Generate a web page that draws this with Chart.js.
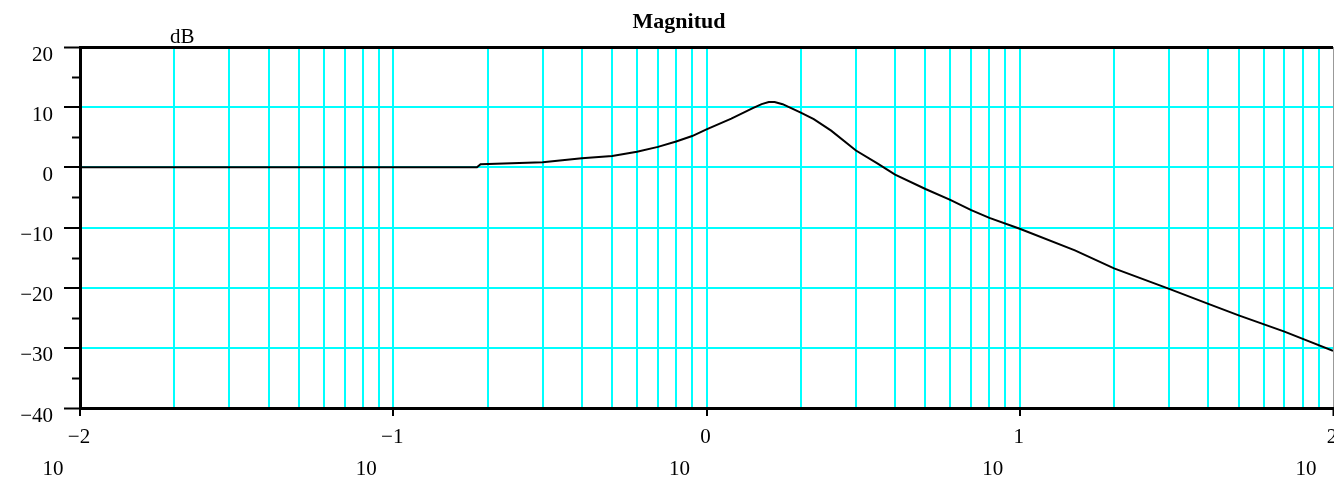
<!DOCTYPE html>
<html>
<head>
<meta charset="utf-8">
<script src="https://cdn.jsdelivr.net/npm/chart.js@4/dist/chart.umd.min.js"></script>
<style>
  body { margin: 0; background: #fff; }
</style>
</head>
<body>
<canvas id="bodeChart" width="1334" height="480"></canvas>
<script>
// frequency (rad/s) and magnitude (dB)
const freqs = [0.01, 0.03, 0.1, 0.185, 0.19, 0.3, 0.4, 0.5, 0.6, 0.7, 0.8, 0.9, 1.0, 1.2, 1.4, 1.5, 1.58, 1.65, 1.75, 2.0, 2.2, 2.5, 3.0, 3.5, 4.0, 5.0, 6.0, 7.0, 8.0, 10, 15, 20, 30, 40, 50, 70, 100];
const magDb = [0, 0, 0, 0, 0.5, 0.85, 1.5, 1.9, 2.6, 3.4, 4.3, 5.2, 6.3, 8.1, 9.8, 10.5, 10.85, 10.85, 10.5, 9.1, 8.0, 6.1, 2.8, 0.7, -1.2, -3.6, -5.4, -7.1, -8.4, -10.2, -13.8, -16.8, -20.2, -22.7, -24.6, -27.3, -30.5];

const decades = [-2, -1, 0, 1, 2];
const yMajor = [-40, -30, -20, -10, 0, 10, 20];
const yMinor = [-35, -25, -15, -5, 5, 15];

const labelFont = '21px "Liberation Serif"';
const CYAN = '#00ffff';

function isDecade(v) {
    return Math.abs(Math.log10(v) - Math.round(Math.log10(v))) < 1e-9;
}

const bodeLabels = {
    id: 'bodeLabels',
    afterDraw(chart) {
        const ctx = chart.ctx;
        const xs = chart.scales.x;
        const ys = chart.scales.y;
        ctx.save();
        ctx.fillStyle = '#000';
        ctx.strokeStyle = '#000';

        // minor ticks on the dB axis
        ctx.lineWidth = 2;
        yMinor.forEach(v => {
            const py = Math.round(ys.getPixelForValue(v)) + 0.5;
            ctx.beginPath();
            ctx.moveTo(72, py);
            ctx.lineTo(xs.left, py);
            ctx.stroke();
        });

        // decade labels: base "10" with the exponent above it
        ctx.font = labelFont;
        ctx.textAlign = 'center';
        ctx.textBaseline = 'alphabetic';
        decades.forEach(e => {
            const px = xs.getPixelForValue(Math.pow(10, e));
            ctx.fillText(e < 0 ? '\u2212' + (-e) : String(e), px - 1, 443);
            ctx.fillText('10', px - 27, 475);
        });

        ctx.textAlign = 'left';
        ctx.fillText('dB', 170, 43);

        ctx.font = 'bold 22px "Liberation Serif"';
        ctx.textAlign = 'center';
        ctx.fillText('Magnitud', 679, 28);
        ctx.restore();
    }
};

const bodeChart = new Chart(document.getElementById('bodeChart'), {
    type: 'line',
    data: {
        datasets: [{
            data: freqs.map((f, i) => ({ x: f, y: magDb[i] })),
            borderColor: '#000',
            borderWidth: 2,
            pointRadius: 0,
            tension: 0,
            fill: false
        }]
    },
    options: {
        responsive: false,
        animation: false,
        layout: { padding: { top: 47, right: 1, left: 0, bottom: 0 } },
        plugins: {
            legend: { display: false },
            tooltip: { enabled: false }
        },
        scales: {
            x: {
                type: 'logarithmic',
                min: 0.01,
                max: 100,
                afterBuildTicks: (scale) => {
                    const t = [];
                    for (let e = -2; e < 2; e++) {
                        for (let k = 1; k <= 9; k++) t.push({ value: k * Math.pow(10, e) });
                    }
                    t.push({ value: 100 });
                    scale.ticks = t;
                },
                afterFit: (scale) => {
                    scale.height = 72;
                    scale.paddingLeft = 0;
                    scale.paddingRight = 0;
                },
                ticks: { display: false },
                border: { display: true, color: '#000', width: 3 },
                grid: {
                    drawTicks: true,
                    tickLength: 8,
                    tickWidth: 2,
                    tickColor: (c) => isDecade(c.tick.value) ? '#000' : 'rgba(0,0,0,0)',
                    color: (c) => {
                        const v = c.tick.value;
                        if (Math.abs(v - 0.01) < 1e-9) return '#000';
                        if (Math.abs(v - 100) < 1e-9) return '#999';
                        return CYAN;
                    },
                    lineWidth: (c) => Math.abs(c.tick.value - 100) < 1e-9 ? 1 : 2
                }
            },
            y: {
                min: -40,
                max: 20,
                afterBuildTicks: (scale) => {
                    scale.ticks = yMajor.map(v => ({ value: v }));
                },
                afterFit: (scale) => {
                    scale.width = 80;
                    scale.paddingTop = 0;
                    scale.paddingBottom = 0;
                },
                border: { display: true, color: '#000', width: 3 },
                grid: {
                    tickLength: 16,
                    tickWidth: 2,
                    tickColor: '#000',
                    color: (c) => (c.tick.value === 20 || c.tick.value === -40) ? '#000' : CYAN,
                    lineWidth: (c) => (c.tick.value === 20 || c.tick.value === -40) ? 3 : 2
                },
                ticks: {
                    color: '#000',
                    font: { family: 'Liberation Serif', size: 21 },
                    padding: 11,
                    labelOffset: 8,
                    callback: (v) => String(v).replace('-', '\u2212')
                }
            }
        }
    },
    plugins: [bodeLabels]
});
</script>
</body>
</html>
